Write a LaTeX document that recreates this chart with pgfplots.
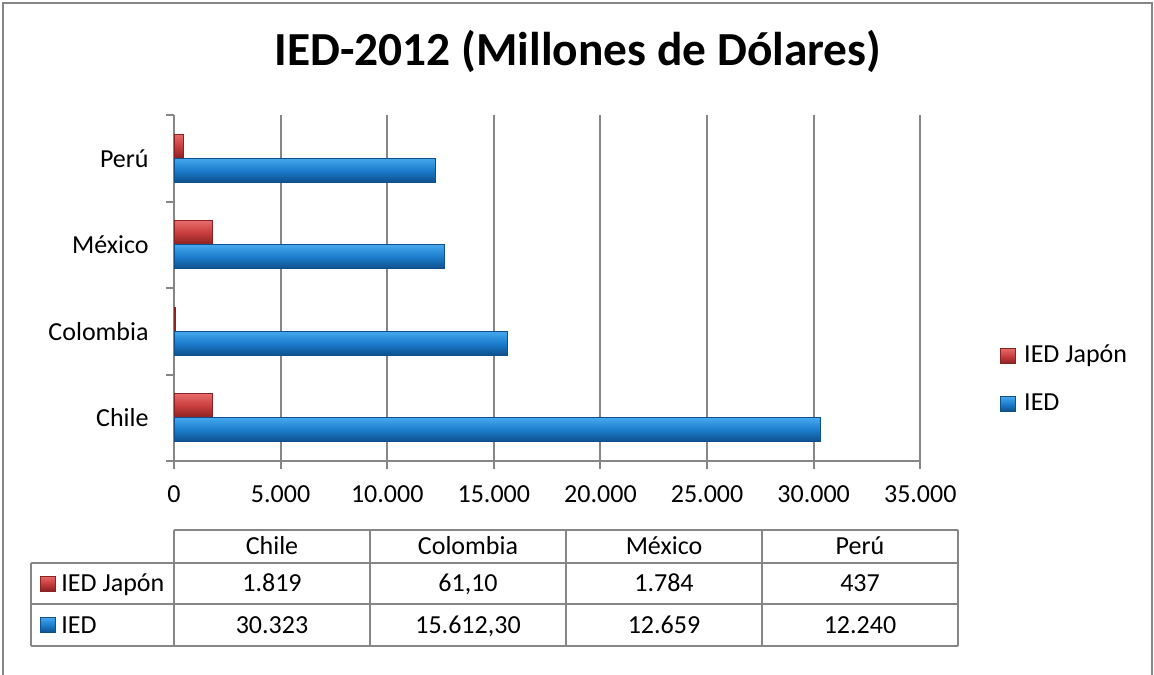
\documentclass[border=0pt]{standalone}
\usepackage{fontspec}
\setmainfont{Carlito}
\usepackage{pgfplots}
\pgfplotsset{compat=1.18}
\definecolor{axisgray}{HTML}{868686}
\definecolor{blueT}{HTML}{45A8EE}
\definecolor{blueM}{HTML}{1C7DCD}
\definecolor{blueB}{HTML}{0E4F8C}
\definecolor{redT}{HTML}{E76B6B}
\definecolor{redM}{HTML}{C93D3D}
\definecolor{redB}{HTML}{8A2222}
\tikzset{
  bluebar/.style={top color=blueT, bottom color=blueB, middle color=blueM, draw=blueB, line width=0.4pt},
  redbar/.style={top color=redT, bottom color=redB, middle color=redM, draw=redB, line width=0.4pt},
}
\newcommand{\body}{\fontsize{13}{15.6}\selectfont}

\begin{document}
\begin{tikzpicture}
\useasboundingbox (0pt,0pt) rectangle (577pt,-337pt);

% frame and title (pixel coordinates)
\begin{scope}[x=0.5pt,y=-0.5pt]
  \draw[axisgray, line width=1pt] (2.5,690) -- (2.5,3) -- (1151.5,3) -- (1151.5,690);
  \node[font=\fontsize{23.7}{28}\selectfont\bfseries, anchor=base] at (578,66) {IED-2012 (Millones de Dólares)};
\end{scope}

\begin{axis}[
    at={(87pt,-230.5pt)}, anchor=south west,
    scale only axis,
    width=373.15pt, height=173pt,
    xmin=0, xmax=35000,
    ymin=-0.5, ymax=3.5,
    axis x line*=bottom,
    axis y line*=left,
    axis line style={axisgray, line width=1pt},
    xtick={0,5000,10000,15000,20000,25000,30000,35000},
    xticklabels={0,5.000,10.000,15.000,20.000,25.000,30.000,35.000},
    scaled x ticks=false,
    ytick={-0.5,0.5,1.5,2.5,3.5},
    yticklabels={Chile,Colombia,México,Perú},
    y tick label as interval,
    tick align=outside,
    major tick length=4pt,
    tick style={axisgray, line width=1pt},
    xmajorgrids=true,
    grid style={axisgray, line width=1pt},
    tick label style={font=\body},
    xticklabel style={inner sep=0pt, yshift=-8pt},
    yticklabel style={inner sep=0pt, xshift=-8.5pt},
    xbar,
    bar width=12pt,
    legend style={at={(1.1068,0.234)}, anchor=west, draw=none, fill=none,
      inner sep=0pt, row sep=12pt, column sep=4pt, font=\body,
      nodes={inner sep=0pt, text height=9pt, text depth=3pt}},
    legend cell align=left,
    legend image code/.code={\draw[#1] (0pt,-3.75pt) rectangle (7.5pt,3.75pt);},
]
% IED Japon, one bar per plot so that each bar gets its own shading
\addplot[redbar, bar shift=6pt] coordinates {(1819,0)};
\addlegendentry{IED Japón}
\addplot[bluebar, bar shift=-6pt] coordinates {(30323,0)};
\addlegendentry{IED}
\addplot[redbar, bar shift=6pt, forget plot] coordinates {(61.10,1)};
\addplot[redbar, bar shift=6pt, forget plot] coordinates {(1784,2)};
\addplot[redbar, bar shift=6pt, forget plot] coordinates {(437,3)};
\addplot[bluebar, bar shift=-6pt, forget plot] coordinates {(15612.30,1)};
\addplot[bluebar, bar shift=-6pt, forget plot] coordinates {(12659,2)};
\addplot[bluebar, bar shift=-6pt, forget plot] coordinates {(12240,3)};
\end{axis}

% data table (pixel coordinates)
\begin{scope}[x=0.5pt,y=-0.5pt, font=\body]
  \draw[axisgray, line width=1pt] (174,530.3) -- (958,530.3);
  \draw[axisgray, line width=1pt] (31,562.7) -- (958,562.7);
  \draw[axisgray, line width=1pt] (31,604.3) -- (958,604.3);
  \draw[axisgray, line width=1pt] (31,645.7) -- (958,645.7);
  \draw[axisgray, line width=1pt] (31,562.7) -- (31,645.7);
  \foreach \x in {174,370,566,762,958}
    \draw[axisgray, line width=1pt] (\x,530.3) -- (\x,645.7);
  \foreach \x/\t in {272/Chile,468/Colombia,664/México,860/Perú}
    \node[anchor=base, inner sep=0pt] at (\x,554.5) {\t};
  \foreach \x/\t in {272/1.819,468/{61,10},664/1.784,860/437}
    \node[anchor=base, inner sep=0pt] at (\x,591.5) {\t};
  \foreach \x/\t in {272/30.323,468/{15.612,30},664/12.659,860/12.240}
    \node[anchor=base, inner sep=0pt] at (\x,633) {\t};
  \draw[redbar] (40,576) rectangle (55,591);
  \node[anchor=base west, inner sep=0pt] at (61,591.5) {IED Japón};
  \draw[bluebar] (40,617.5) rectangle (55,632.5);
  \node[anchor=base west, inner sep=0pt] at (61,633) {IED};
\end{scope}
\end{tikzpicture}
\end{document}
